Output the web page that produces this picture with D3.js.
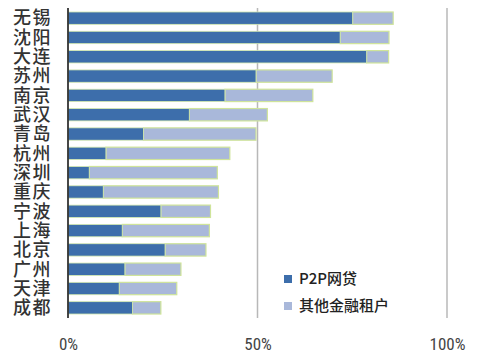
<!DOCTYPE html>
<html><head><meta charset="utf-8">
<script src="https://cdn.jsdelivr.net/npm/d3@7"></script>
<style>body{margin:0;background:#fff;}</style>
</head><body>
<svg id="c" width="478" height="361"></svg>
<script>
const cities = ["无锡","沈阳","大连","苏州","南京","武汉","青岛","杭州","深圳","重庆","宁波","上海","北京","广州","天津","成都"];
const p2p =   [75.1,71.8,78.8,49.6,41.4,32.0,19.9,10.0,5.6,9.3,24.5,14.3,25.6,15.0,13.5,17.0];
const other = [10.7,12.9,5.8,20.1,23.2,20.6,29.7,32.7,33.8,30.4,13.1,23.0,10.8,14.8,15.2,7.5];
const seriesNames = ["P2P网贷","其他金融租户"];
const tickValues = [0,50,100];
const tickLabels = ["0%","50%","100%"];
const colors = ["#3d6eab","#a9b8da"];

const svg = d3.select("#c");
const x = d3.scaleLinear().domain([0,100]).range([68,447]);
const y = d3.scaleBand().domain(cities).range([8.5,317.5]).paddingInner(0.36).paddingOuter(0.18);

// gridlines
svg.selectAll(".grid").data(tickValues.slice(1)).join("line")
  .attr("x1",d=>x(d)).attr("x2",d=>x(d)).attr("y1",8).attr("y2",318)
  .attr("stroke","#b8b8b8").attr("stroke-width",1.5);

const rows = cities.map((c,i)=>({c, a:p2p[i], b:other[i]}));
const g = svg.append("g");
g.selectAll(".b2").data(rows).join("rect")
  .attr("x",d=>x(d.a)).attr("y",d=>y(d.c)).attr("width",d=>x(d.a+d.b)-x(d.a)).attr("height",y.bandwidth())
  .attr("fill",colors[1]).attr("stroke","#cfe49a").attr("stroke-width",1.2);
g.selectAll(".b1").data(rows).join("rect")
  .attr("x",x(0)).attr("y",d=>y(d.c)).attr("width",d=>x(d.a)-x(0)).attr("height",y.bandwidth())
  .attr("fill",colors[0]).attr("stroke","#d6ebb0").attr("stroke-width",0.8);

// axis line
svg.append("line").attr("x1",68).attr("x2",68).attr("y1",8).attr("y2",318)
  .attr("stroke","#333").attr("stroke-width",1.8);

// y labels
svg.selectAll(".yl").data(cities).join("text")
  .attr("x",52).attr("y",d=>y(d)+y.bandwidth()/2+6.3).attr("text-anchor","end")
  .attr("font-family","Noto Sans CJK SC").attr("font-weight",500).attr("font-size",18)
  .attr("fill","#333").attr("letter-spacing",1.5).text(d=>d);

// x tick labels
const xAxis = d3.axisBottom(x).tickValues(tickValues).tickFormat((d,i)=>tickLabels[i]).tickSize(0);
const ax = svg.append("g").attr("transform","translate(0,335)").call(xAxis);
ax.select(".domain").remove();
ax.selectAll("text").attr("font-family","Liberation Sans Narrow, Roboto Condensed, DejaVu Sans Condensed, sans-serif")
  .attr("font-size",17).attr("fill","#444");

// legend
const lg = svg.append("g");
seriesNames.forEach((n,i)=>{
  lg.append("rect").attr("x",284).attr("y",275+i*27).attr("width",8).attr("height",8).attr("fill",colors[i]);
  lg.append("text").attr("x",299).attr("y",284+i*27).attr("font-family","Noto Sans CJK SC").attr("font-weight",500)
    .attr("font-size",15).attr("fill","#222").text(n);
});
</script>
</body></html>
